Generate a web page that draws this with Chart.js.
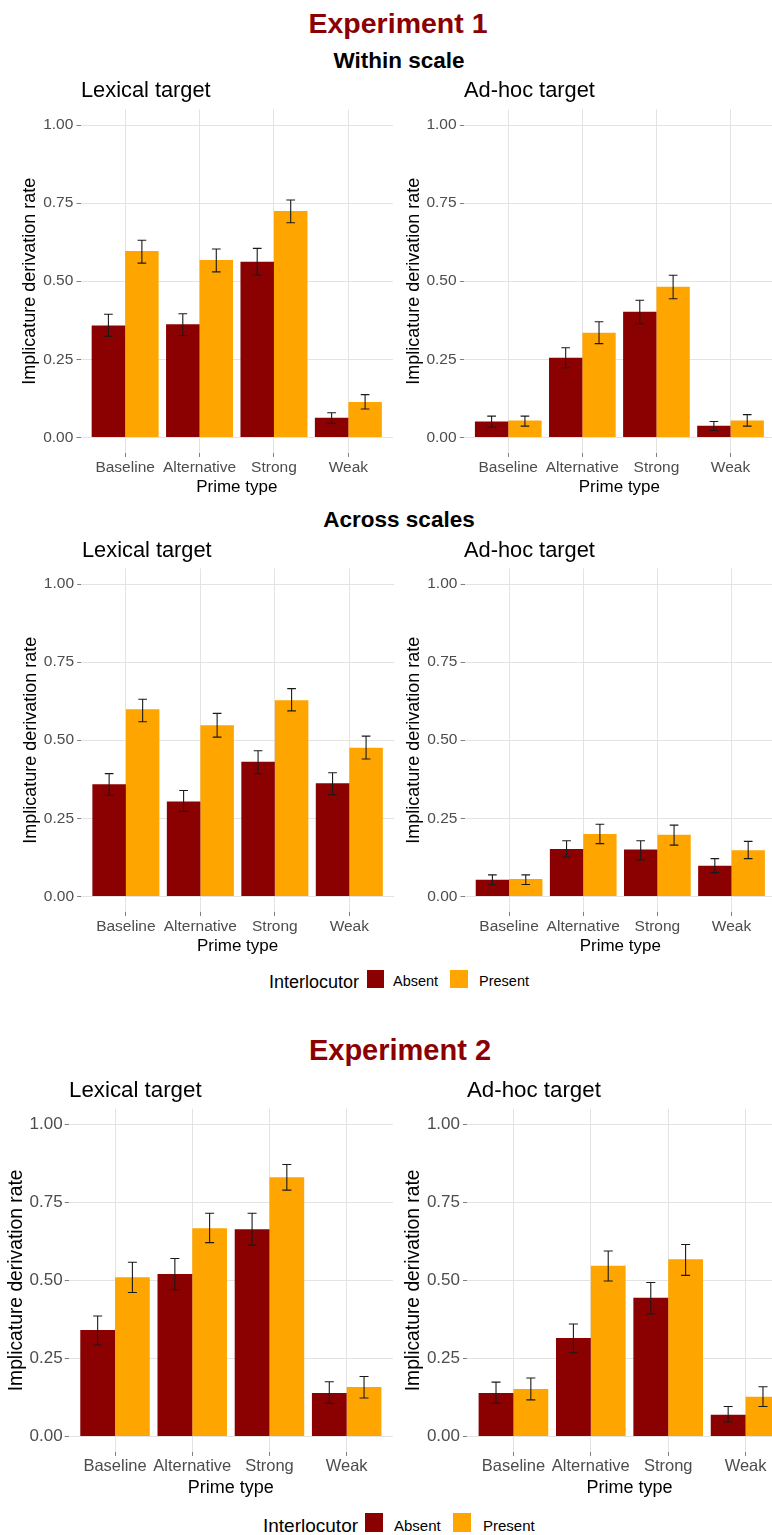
<!DOCTYPE html>
<html>
<head>
<meta charset="utf-8">
<script src="https://cdn.jsdelivr.net/npm/chart.js@4.4.1/dist/chart.umd.min.js"></script>
<style>
  html, body { margin: 0; padding: 0; background: #fff; width: 772px; height: 1535px; overflow: hidden; }
  #page { position: relative; width: 772px; height: 1535px; overflow: hidden; font-family: 'Liberation Sans', Arial, sans-serif; }
  .t { position: absolute; white-space: nowrap; line-height: 1; }
  canvas { position: absolute; }
  .sw { position: absolute; }
</style>
</head>
<body>
<div id="page"></div>
<script>
// ---------------- DATA ----------------
const categories = ['Baseline', 'Alternative', 'Strong', 'Weak'];
const seriesNames = ['Absent', 'Present'];
const yTickValues = [0, 0.25, 0.5, 0.75, 1];
const yTickLabels = ['0.00', '0.25', '0.50', '0.75', '1.00'];

// Experiment 1, within scale, lexical target
const e1WithinLexAbsent    = [0.358, 0.362, 0.562, 0.063];
const e1WithinLexAbsentLo  = [0.324, 0.326, 0.520, 0.045];
const e1WithinLexAbsentHi  = [0.394, 0.396, 0.605, 0.079];
const e1WithinLexPresent   = [0.597, 0.568, 0.725, 0.113];
const e1WithinLexPresentLo = [0.558, 0.530, 0.687, 0.091];
const e1WithinLexPresentHi = [0.631, 0.603, 0.760, 0.137];

// Experiment 1, within scale, ad-hoc target
const e1WithinAdhAbsent    = [0.051, 0.255, 0.402, 0.037];
const e1WithinAdhAbsentLo  = [0.033, 0.223, 0.364, 0.022];
const e1WithinAdhAbsentHi  = [0.068, 0.287, 0.439, 0.051];
const e1WithinAdhPresent   = [0.054, 0.335, 0.482, 0.054];
const e1WithinAdhPresentLo = [0.036, 0.300, 0.444, 0.036];
const e1WithinAdhPresentHi = [0.068, 0.370, 0.519, 0.073];

// Experiment 1, across scales, lexical target
const e1AcrossLexAbsent    = [0.359, 0.304, 0.431, 0.362];
const e1AcrossLexAbsentLo  = [0.324, 0.272, 0.393, 0.325];
const e1AcrossLexAbsentHi  = [0.393, 0.339, 0.466, 0.396];
const e1AcrossLexPresent   = [0.599, 0.548, 0.628, 0.476];
const e1AcrossLexPresentLo = [0.559, 0.510, 0.594, 0.440];
const e1AcrossLexPresentHi = [0.631, 0.586, 0.665, 0.513];

// Experiment 1, across scales, ad-hoc target
const e1AcrossAdhAbsent    = [0.053, 0.152, 0.150, 0.098];
const e1AcrossAdhAbsentLo  = [0.037, 0.126, 0.117, 0.076];
const e1AcrossAdhAbsentHi  = [0.069, 0.178, 0.178, 0.121];
const e1AcrossAdhPresent   = [0.056, 0.200, 0.197, 0.148];
const e1AcrossAdhPresentLo = [0.038, 0.169, 0.164, 0.121];
const e1AcrossAdhPresentHi = [0.069, 0.231, 0.228, 0.176];

// Experiment 2, lexical target
const e2LexAbsent    = [0.341, 0.520, 0.664, 0.139];
const e2LexAbsentLo  = [0.293, 0.470, 0.613, 0.106];
const e2LexAbsentHi  = [0.386, 0.570, 0.715, 0.175];
const e2LexPresent   = [0.510, 0.667, 0.830, 0.158];
const e2LexPresentLo = [0.461, 0.621, 0.789, 0.123];
const e2LexPresentHi = [0.558, 0.715, 0.871, 0.192];

// Experiment 2, ad-hoc target
const e2AdhAbsent    = [0.139, 0.315, 0.444, 0.069];
const e2AdhAbsentLo  = [0.106, 0.268, 0.392, 0.046];
const e2AdhAbsentHi  = [0.174, 0.360, 0.493, 0.096];
const e2AdhPresent   = [0.152, 0.547, 0.568, 0.127];
const e2AdhPresentLo = [0.117, 0.498, 0.516, 0.096];
const e2AdhPresentHi = [0.187, 0.594, 0.615, 0.159];

// ---------------- STYLE / LAYOUT ----------------
const COL_ABSENT = '#8B0000';
const COL_PRESENT = '#FFA500';
const FONT = "'Liberation Sans', Arial, sans-serif";
Chart.defaults.font.family = FONT;

const page = document.getElementById('page');

function text(str, opts) {
  const d = document.createElement('div');
  d.className = 't';
  d.textContent = str;
  const size = opts.size;
  d.style.fontSize = size + 'px';
  d.style.fontWeight = opts.bold ? 'bold' : 'normal';
  d.style.color = opts.color || '#000';
  d.style.top = (opts.baseline - 0.8465 * size) + 'px';
  if (opts.center !== undefined) {
    d.style.left = (opts.center - 250) + 'px';
    d.style.width = '500px';
    d.style.textAlign = 'center';
  } else {
    d.style.left = opts.left + 'px';
  }
  page.appendChild(d);
}

function swatch(x, y, w, h, color) {
  const s = document.createElement('div');
  s.className = 'sw';
  s.style.left = x + 'px'; s.style.top = y + 'px';
  s.style.width = w + 'px'; s.style.height = h + 'px';
  s.style.background = color;
  page.appendChild(s);
}

const errorBarPlugin = {
  id: 'errorBars',
  afterDatasetsDraw(chart) {
    const ctx = chart.ctx;
    const yScale = chart.scales.y;
    ctx.save();
    ctx.strokeStyle = '#1a1a1a';
    ctx.lineWidth = 1.1;
    chart.data.datasets.forEach((ds, di) => {
      const meta = chart.getDatasetMeta(di);
      meta.data.forEach((bar, i) => {
        const x = bar.x;
        const hw = bar.width * 0.13;
        const yl = yScale.getPixelForValue(ds.errLo[i]);
        const yh = yScale.getPixelForValue(ds.errHi[i]);
        ctx.beginPath();
        ctx.moveTo(x, yh); ctx.lineTo(x, yl);
        ctx.moveTo(x - hw, yh); ctx.lineTo(x + hw, yh);
        ctx.moveTo(x - hw, yl); ctx.lineTo(x + hw, yl);
        ctx.stroke();
      });
    });
    ctx.restore();
  }
};

function makePanel(p, absent, absentLo, absentHi, present, presentLo, presentHi) {
  const cv = document.createElement('canvas');
  const h = Math.round((p.plotBottom - p.top) + p.xh);
  cv.width = p.width; cv.height = h;
  cv.style.left = p.left + 'px'; cv.style.top = p.top + 'px';
  cv.style.width = p.width + 'px'; cv.style.height = h + 'px';
  page.appendChild(cv);
  const toPts = arr => arr.map((v, i) => ({ x: i, y: v }));
  new Chart(cv, {
    type: 'bar',
    data: {
      datasets: [
        { label: seriesNames[0], data: toPts(absent), backgroundColor: COL_ABSENT, borderWidth: 0,
          errLo: absentLo, errHi: absentHi, categoryPercentage: 0.9, barPercentage: 1.0 },
        { label: seriesNames[1], data: toPts(present), backgroundColor: COL_PRESENT, borderWidth: 0,
          errLo: presentLo, errHi: presentHi, categoryPercentage: 0.9, barPercentage: 1.0 }
      ]
    },
    options: {
      responsive: false,
      animation: false,
      devicePixelRatio: 1,
      layout: { padding: { top: p.plotTop - p.top, left: 0, right: 0, bottom: 0 } },
      plugins: { legend: { display: false }, tooltip: { enabled: false }, title: { display: false } },
      scales: {
        x: {
          type: 'linear',
          offset: false,
          min: -0.6, max: categories.length - 0.4,
          afterBuildTicks: s => { s.ticks = categories.map((c, i) => ({ value: i })); },
          afterFit: s => { s.height = p.xh; },
          ticks: {
            callback: (v) => categories[v],
            color: '#4D4D4D',
            font: { size: p.xTickSize },
            padding: p.xTickPad,
            maxRotation: 0, autoSkip: false
          },
          grid: { offset: false, color: '#E3E3E3', lineWidth: 1, drawTicks: true, tickLength: 4, tickColor: '#808080', tickWidth: 1 },
          border: { display: false },
          title: { display: true, text: 'Prime type', color: '#000', font: { size: p.xTitleSize, lineHeight: 1 },
                   padding: { top: 0, bottom: p.xTitlePad } }
        },
        y: {
          type: 'linear',
          min: -0.05, max: 1.05,
          afterBuildTicks: s => { s.ticks = yTickValues.map(v => ({ value: v })); },
          afterFit: s => { s.width = p.plotLeft - p.left; },
          ticks: {
            callback: (v, i) => yTickLabels[i],
            color: '#4D4D4D',
            font: { size: p.yTickSize },
            padding: p.yTickPad
          },
          grid: { color: '#E3E3E3', lineWidth: 1, drawTicks: true, tickLength: 4, tickColor: '#808080', tickWidth: 1 },
          border: { display: false },
          title: { display: true, text: 'Implicature derivation rate', color: '#000',
                   font: { size: p.yTitleSize, lineHeight: 1 }, padding: { top: p.yTitlePad, bottom: 0 } }
        }
      }
    },
    plugins: [errorBarPlugin]
  });
}

const e1Font = { xTickSize: 15.5, yTickSize: 15.5, xTitleSize: 17, yTitleSize: 18, xTickPad: 1.4, xTitlePad: 1.7, xh: 45 };
const e2Font = { xTickSize: 16.5, yTickSize: 17, xTitleSize: 18, yTitleSize: 19.3, xTickPad: 0.8, xTitlePad: 2.5, xh: 48 };

const panels = [
  Object.assign({ left: 0,   top: 94,   width: 393, plotLeft: 80.5,  plotTop: 109.4,  plotBottom: 452.6,  yTitlePad: 21.5, yTickPad: 3.2 }, e1Font),
  Object.assign({ left: 390, top: 94,   width: 385, plotLeft: 463.8, plotTop: 109.4,  plotBottom: 452.6,  yTitlePad: 15,   yTickPad: 3.2 }, e1Font),
  Object.assign({ left: 0,   top: 553,  width: 394, plotLeft: 81.2,  plotTop: 568.4,  plotBottom: 911.6,  yTitlePad: 22.5, yTickPad: 3.2 }, e1Font),
  Object.assign({ left: 390, top: 553,  width: 386, plotLeft: 464.6, plotTop: 568.4,  plotBottom: 911.6,  yTitlePad: 15,   yTickPad: 3.2 }, e1Font),
  Object.assign({ left: 0,   top: 1093, width: 393, plotLeft: 68.7,  plotTop: 1108.7, plotBottom: 1452.3, yTitlePad: 6.85, yTickPad: 2 }, e2Font),
  Object.assign({ left: 390, top: 1093, width: 402, plotLeft: 467,   plotTop: 1108.7, plotBottom: 1452.3, yTitlePad: 14.35, yTickPad: 3 }, e2Font)
];

makePanel(panels[0], e1WithinLexAbsent, e1WithinLexAbsentLo, e1WithinLexAbsentHi, e1WithinLexPresent, e1WithinLexPresentLo, e1WithinLexPresentHi);
makePanel(panels[1], e1WithinAdhAbsent, e1WithinAdhAbsentLo, e1WithinAdhAbsentHi, e1WithinAdhPresent, e1WithinAdhPresentLo, e1WithinAdhPresentHi);
makePanel(panels[2], e1AcrossLexAbsent, e1AcrossLexAbsentLo, e1AcrossLexAbsentHi, e1AcrossLexPresent, e1AcrossLexPresentLo, e1AcrossLexPresentHi);
makePanel(panels[3], e1AcrossAdhAbsent, e1AcrossAdhAbsentLo, e1AcrossAdhAbsentHi, e1AcrossAdhPresent, e1AcrossAdhPresentLo, e1AcrossAdhPresentHi);
makePanel(panels[4], e2LexAbsent, e2LexAbsentLo, e2LexAbsentHi, e2LexPresent, e2LexPresentLo, e2LexPresentHi);
makePanel(panels[5], e2AdhAbsent, e2AdhAbsentLo, e2AdhAbsentHi, e2AdhPresent, e2AdhPresentLo, e2AdhPresentHi);

// ---------------- TEXT ----------------
text('Experiment 1', { center: 398, baseline: 32.7, size: 28.5, bold: true, color: '#8B0000' });
text('Within scale', { center: 399, baseline: 69, size: 22.5, bold: true });
text('Lexical target', { left: 81, baseline: 97.3, size: 21.8 });
text('Ad-hoc target', { left: 464, baseline: 97.3, size: 21.8 });
text('Across scales', { center: 399, baseline: 528.3, size: 22.5, bold: true });
text('Lexical target', { left: 82, baseline: 557.3, size: 21.8 });
text('Ad-hoc target', { left: 464, baseline: 557.3, size: 21.8 });

text('Interlocutor', { left: 269, baseline: 988.3, size: 18 });
swatch(366.5, 970, 17.5, 18, COL_ABSENT);
text(seriesNames[0], { left: 393, baseline: 986.5, size: 14.5 });
swatch(450, 970, 17.5, 18, COL_PRESENT);
text(seriesNames[1], { left: 479, baseline: 986.5, size: 14.5 });

text('Experiment 2', { center: 400, baseline: 1060.7, size: 29, bold: true, color: '#8B0000' });
text('Lexical target', { left: 69, baseline: 1097.7, size: 22.3 });
text('Ad-hoc target', { left: 467, baseline: 1097.7, size: 22.3 });

text('Interlocutor', { left: 263, baseline: 1531.7, size: 19 });
swatch(365, 1513, 18, 19, COL_ABSENT);
text(seriesNames[0], { left: 394, baseline: 1530.7, size: 15 });
swatch(453, 1513, 18, 19, COL_PRESENT);
text(seriesNames[1], { left: 483, baseline: 1530.7, size: 15 });
</script>
</body>
</html>
